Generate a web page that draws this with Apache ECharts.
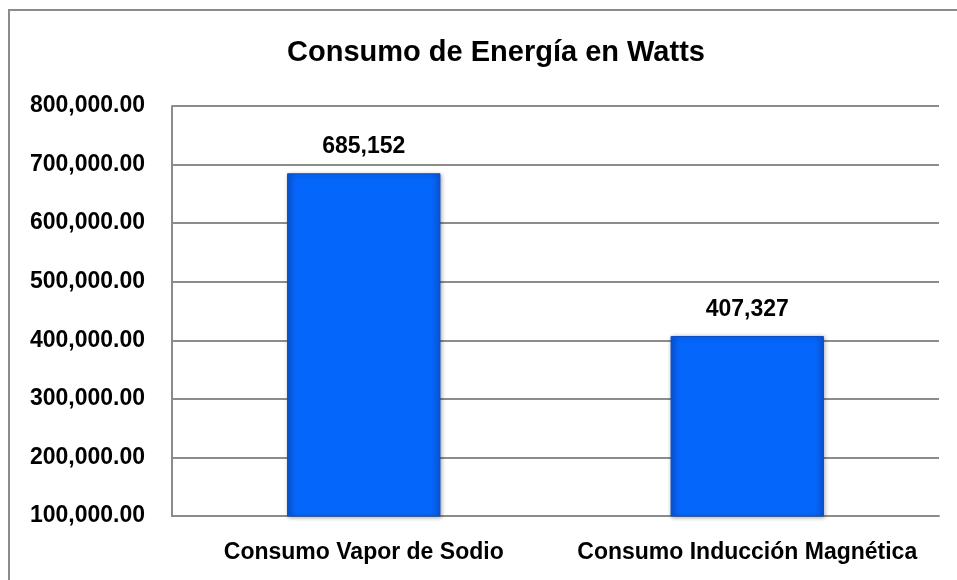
<!DOCTYPE html>
<html>
<head>
<meta charset="utf-8">
<script src="https://cdn.jsdelivr.net/npm/echarts@6/dist/echarts.min.js"></script>
<style>
  html, body { margin: 0; padding: 0; background: #fff; }
  #chart1 { width: 957px; height: 580px; }
</style>
</head>
<body>
<div id="chart1"></div>
<script>
var categories = ["Consumo Vapor de Sodio", "Consumo Inducción Magnética"];
var consumo = [685152, 407327];
var yMin = 100000, yMax = 800000, yStep = 100000;

var fontMain = "'Liberation Sans', Arial, sans-serif";

var fmtAxis = function (v) {
    return v.toLocaleString("en-US", { minimumFractionDigits: 2, maximumFractionDigits: 2 });
};

var myChart = echarts.init(document.getElementById("chart1"));
var option = {
    backgroundColor: "#fff",
    animation: false,
    title: {
        text: "Consumo de Energía en Watts",
        left: 491,
        textAlign: "center",
        top: 33,
        textStyle: { fontFamily: fontMain, fontWeight: "bold", fontSize: 29, color: "#000" }
    },
    graphic: [{
        type: "rect",
        shape: { x: 9, y: 10, width: 970, height: 600 },
        style: { fill: "none", stroke: "#8c8c8c", lineWidth: 2 },
        silent: true
    }],
    grid: { left: 172, right: 18, top: 106, bottom: 64 },
    xAxis: {
        type: "category",
        data: categories,
        axisTick: { show: false },
        axisLine: { lineStyle: { color: "#8c8c8c", width: 2 } },
        axisLabel: {
            interval: 0,
            margin: 25,
            fontFamily: fontMain, fontWeight: "bold", fontSize: 23, color: "#000"
        }
    },
    yAxis: {
        type: "value",
        min: yMin, max: yMax, interval: yStep,
        axisLine: { show: true, lineStyle: { color: "#8c8c8c", width: 2 } },
        axisTick: { show: false },
        splitLine: { lineStyle: { color: "#8c8c8c", width: 2 } },
        axisLabel: {
            margin: 27,
            formatter: fmtAxis,
            fontFamily: fontMain, fontWeight: "bold", fontSize: 23, color: "#000"
        }
    },
    series: [{
        type: "bar",
        data: consumo,
        barWidth: "40%",
        itemStyle: {
            color: new echarts.graphic.LinearGradient(0, 0, 1, 0, [
                { offset: 0, color: "#0a55d8" },
                { offset: 0.06, color: "#0566fb" },
                { offset: 0.94, color: "#0566fb" },
                { offset: 1, color: "#0a55d8" }
            ]),
            borderColor: "#0b4fc4",
            borderWidth: 1,
            shadowColor: "rgba(0,0,0,0.35)",
            shadowBlur: 4,
            shadowOffsetX: 1,
            shadowOffsetY: 1
        },
        label: {
            show: true,
            position: "top",
            distance: 15,
            formatter: function (p) { return p.value.toLocaleString("en-US"); },
            fontFamily: fontMain, fontWeight: "bold", fontSize: 23, color: "#000"
        }
    }]
};
myChart.setOption(option);
</script>
</body>
</html>
